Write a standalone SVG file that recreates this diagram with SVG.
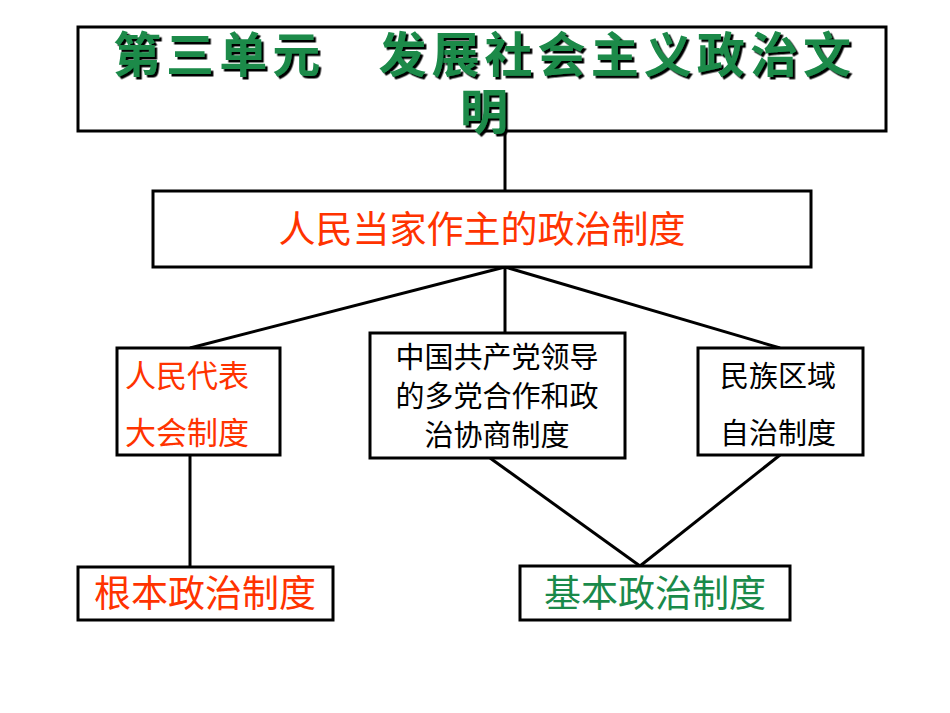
<svg xmlns="http://www.w3.org/2000/svg" width="950" height="713" viewBox="0 0 950 713">
<defs><filter id="sh" x="-5%" y="-20%" width="110%" height="140%"><feDropShadow dx="2.5" dy="2.5" stdDeviation="0.3" flood-color="#000"/></filter></defs>
<style>
rect{fill:#fff;stroke:#000;stroke-width:3}
line{stroke:#000;stroke-width:3}
text{font-family:"Noto Sans CJK SC","Liberation Sans",sans-serif}
.t{font-size:48px;font-weight:bold;fill:#1a8a4a}
.r{fill:#ff3300;font-size:37px}
.rs{fill:#ff3300;font-size:31px}
.k{fill:#000;font-size:29px}
.g{fill:#1a8a4a;font-size:37px}
</style>
<rect x="0" y="0" width="950" height="713" style="fill:#fff;stroke:none"/>
<g id="connectors">
<line x1="505" y1="131" x2="505" y2="191"/>
<line x1="505" y1="267" x2="505" y2="333"/>
<line x1="505" y1="267" x2="190" y2="348"/>
<line x1="505" y1="267" x2="780" y2="348"/>
<line x1="190" y1="455" x2="190" y2="567"/>
<line x1="490" y1="458" x2="640" y2="566"/>
<line x1="780" y1="455" x2="640" y2="566"/>
</g>
<g id="title">
<rect x="78" y="27" width="808" height="104"/>
<g class="t" filter="url(#sh)">
<text x="113" y="72" textLength="738">第三单元　发展社会主义政治文</text>
<text x="460" y="129">明</text>
</g>
</g>
<g id="n1"><rect x="153" y="191" width="658" height="76"/><text class="r" x="482" y="243" text-anchor="middle">人民当家作主的政治制度</text></g>
<g id="n2"><rect x="117" y="348" width="163" height="107"/><text class="rs" x="125" y="387">人民代表</text><text class="rs" x="125" y="444">大会制度</text></g>
<g id="n3"><rect x="370" y="333" width="255" height="125"/><g class="k" text-anchor="middle"><text x="497" y="368">中国共产党领导</text><text x="497" y="407">的多党合作和政</text><text x="497" y="446">治协商制度</text></g></g>
<g id="n4"><rect x="698" y="348" width="165" height="107"/><g class="k"><text x="720" y="387">民族区域</text><text x="720" y="444">自治制度</text></g></g>
<g id="n5"><rect x="78" y="567" width="255" height="53"/><text class="r" x="205" y="607" text-anchor="middle">根本政治制度</text></g>
<g id="n6"><rect x="520" y="566" width="270" height="54"/><text class="g" x="655" y="607" text-anchor="middle">基本政治制度</text></g>
</svg>
